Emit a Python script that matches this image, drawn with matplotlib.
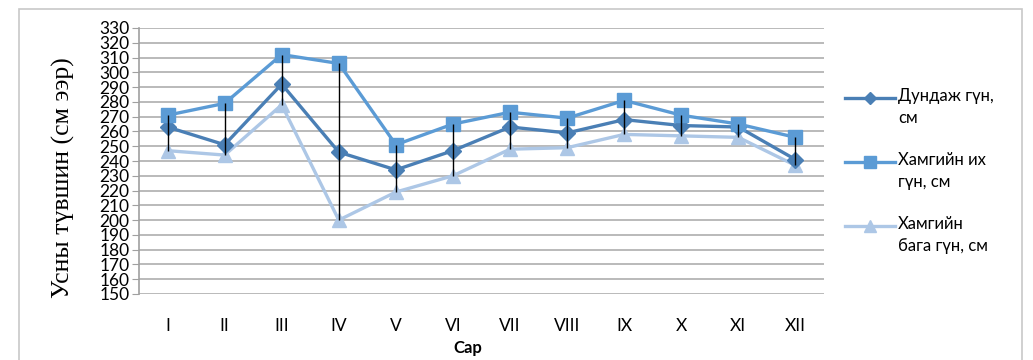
import matplotlib
matplotlib.use("Agg")
import matplotlib.pyplot as plt
from matplotlib.patches import Rectangle
from matplotlib.lines import Line2D

months = ["I", "II", "III", "IV", "V", "VI", "VII", "VIII", "IX", "X", "XI", "XII"]
mean_depth = [263, 251, 292, 246, 234, 247, 263, 259, 268, 264, 263, 241]
max_depth = [271, 279, 312, 306, 251, 265, 273, 269, 281, 271, 265, 256]
min_depth = [247, 244, 278, 200, 219, 230, 248, 249, 258, 257, 256, 237]
labels = ["Дундаж гүн,\nсм", "Хамгийн их\nгүн, см", "Хамгийн\nбага гүн, см"]
yticks = list(range(150, 331, 10))

plt.rcParams['font.family'] = ['Lato', 'DejaVu Sans']

W, H = 1033, 360
fig = plt.figure(figsize=(W/100, H/100), dpi=100)
fig.patches.append(Rectangle((19/W, -0.1), (1022-19)/W, 1.1 - 9/H,
                             transform=fig.transFigure, fill=False,
                             edgecolor='#c8c8c8', linewidth=1.2))
ax = fig.add_axes([139/W, 1-294/H, (824-139)/W, (294-28)/H])

x = list(range(len(months)))
ax.vlines(x, min_depth, max_depth, color='black', linewidth=1.0, zorder=4)

c_mean = '#4a7fb5'
c_max = '#5b9bd5'
c_min = '#adc7e6'
styles = [(mean_depth, c_mean, 'D', 8, 3), (max_depth, c_max, 's', 10.5, 3),
          (min_depth, c_min, '^', 10.5, 2)]
for vals, c, m, ms, z in styles:
    ax.plot(x, vals, color=c, lw=2.4, marker=m, markersize=ms, zorder=z)

ax.set_xlim(-0.5, len(months) - 0.5)
ax.set_ylim(150, 330)
ax.set_yticks(yticks)
ax.set_yticklabels([str(v) for v in yticks], fontsize=12.5)
ax.set_xticks(x)
ax.set_xticklabels(months, fontsize=12.5)
ax.tick_params(axis='x', length=0, pad=17)
ax.tick_params(axis='y', length=5, color='#a0a0a0', pad=2)
ax.grid(axis='y', color='#b4b4b4', linewidth=1.3)
ax.set_axisbelow(True)
for s in ['top', 'right', 'bottom']:
    ax.spines[s].set_visible(False)
ax.spines['left'].set_color('#a0a0a0')
ax.spines['left'].set_linewidth(1.2)

fig.text(468/W, 1-348/H, "Сар", ha='center', va='center', fontsize=12,
         fontweight='bold')
fig.text(63/W, 1-178/H, "Усны түвшин (см ээр)", rotation=90,
         ha='center', va='center', fontsize=18.5,
         family=['Liberation Serif', 'DejaVu Serif'])

# legend (handle aligned with the first line of each label)
leg_y = [98, 162, 226]
leg_ms = [6, 8, 8]
for (vals, c, m, ms, z), lab, yy, lms in zip(styles, labels, leg_y, leg_ms):
    yf = 1 - yy/H
    fig.add_artist(Line2D([845/W, 895/W], [yf, yf], transform=fig.transFigure,
                          color=c, lw=2.4))
    fig.add_artist(Line2D([870/W], [yf], transform=fig.transFigure,
                          color=c, marker=m, markersize=lms, lw=0))
    fig.text(898/W, yf + 10/H, lab, ha='left', va='top', fontsize=12,
             linespacing=1.5)

fig.savefig("out.png", dpi=100)
